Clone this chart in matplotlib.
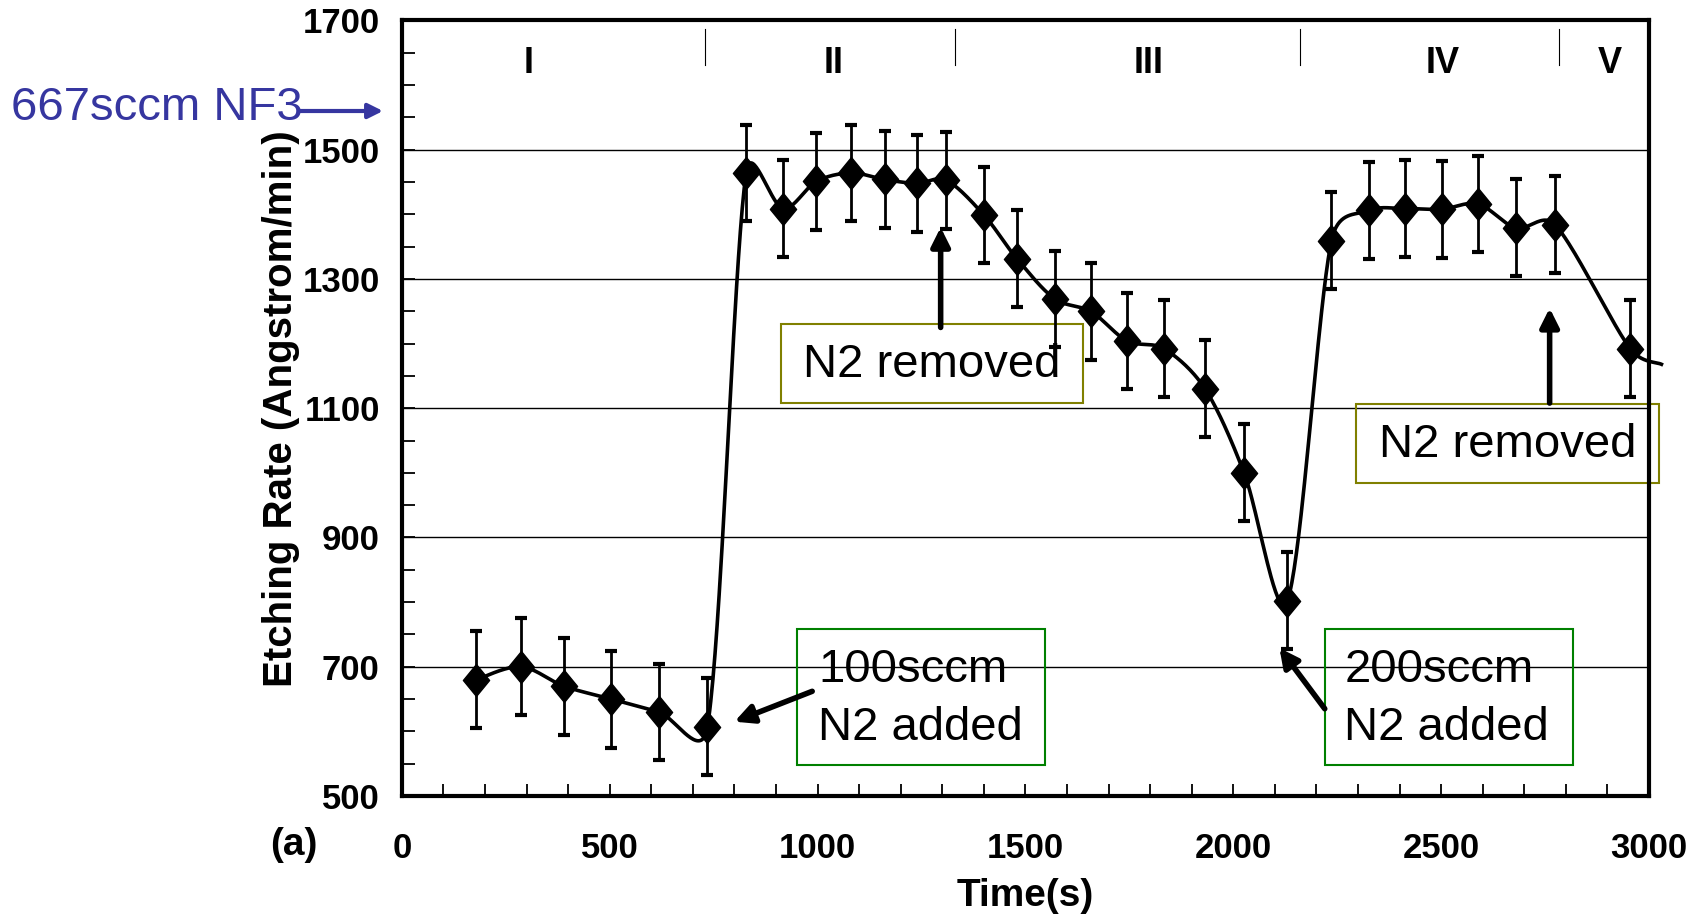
import numpy as np
import matplotlib
matplotlib.use('Agg')
import matplotlib.pyplot as plt
from matplotlib.patches import Rectangle
from matplotlib.ticker import MultipleLocator, FixedLocator

# etching rate readings over time
time_s = [179, 286, 390, 504, 618, 735, 828, 917, 997, 1080, 1161, 1239, 1309, 1400,
          1480, 1571, 1657, 1745, 1834, 1932, 2026, 2130, 2236, 2327, 2413, 2501,
          2589, 2680, 2774, 2955]
etch_rate = [680, 700, 670, 650, 630, 607, 1464, 1409, 1451, 1464, 1454, 1448, 1453,
             1399, 1331, 1269, 1250, 1204, 1192, 1130, 1000, 802, 1359, 1406, 1409,
             1408, 1416, 1379, 1384, 1192]
rate_err = 75
# the smoothed line runs on a little past the last reading
tail_time = [3030]
tail_rate = [1168]

stage_edges = [730, 1330, 2161, 2784]
stage_names = ['I', 'II', 'III', 'IV', 'V']
stage_centers = [304, 1039, 1797, 2504, 2906]

plt.rcParams['font.family'] = ['Liberation Sans', 'DejaVu Sans']


def smooth_curve(x, y, sx, sy, n=40):
    # bezier smoothing through every point; tangents get shortened next to
    # a much longer neighbouring segment (lengths measured on screen)
    pts = np.column_stack([np.asarray(x) * sx, np.asarray(y) * sy]).astype(float)
    p = np.vstack([pts[0], pts, pts[-1]])
    segs = []
    t = np.linspace(0, 1, n)[:, None]
    for i in range(1, len(p) - 2):
        p0, p1, p2, p3 = p[i - 1], p[i], p[i + 1], p[i + 2]
        d01 = np.hypot(*(p1 - p0))
        d12 = np.hypot(*(p2 - p1))
        d23 = np.hypot(*(p3 - p2))
        k1 = min(1.0, np.sqrt(2 * d12 / max(d01 + d12, 1e-9)))
        k2 = min(1.0, np.sqrt(2 * d12 / max(d12 + d23, 1e-9)))
        c1 = p1 + (p2 - p0) / 6 * k1
        c2 = p2 - (p3 - p1) / 6 * k2
        segs.append((1 - t) ** 3 * p1 + 3 * (1 - t) ** 2 * t * c1
                    + 3 * (1 - t) * t ** 2 * c2 + t ** 3 * p2)
    out = np.vstack(segs)
    return out[:, 0] / sx, out[:, 1] / sy


fig = plt.figure(figsize=(16.93, 9.14), dpi=100)
ax = fig.add_axes([0.2374, 0.1291, 0.7366, 0.8485])
ax.set_xlim(0, 3000)
ax.set_ylim(500, 1700)

for s in ax.spines.values():
    s.set_linewidth(3)
    s.set_color('black')

ax.xaxis.set_major_locator(MultipleLocator(500))
ax.xaxis.set_minor_locator(MultipleLocator(100))
ax.yaxis.set_major_locator(FixedLocator(np.arange(500, 1701, 200)))
ax.yaxis.set_minor_locator(MultipleLocator(50))
ax.tick_params(which='both', direction='in', top=False, right=False, width=1.3, length=9)
ax.tick_params(axis='x', which='major', pad=26)
ax.tick_params(axis='y', which='major', pad=16)
for lab in ax.get_xticklabels() + ax.get_yticklabels():
    lab.set_fontweight('bold')
    lab.set_fontsize(25)

ax.yaxis.grid(True, which='major', color='black', lw=1)
ax.set_axisbelow(True)

# smoothed line, error bars and diamond markers
cx, cy = smooth_curve(time_s + tail_time, etch_rate + tail_rate, 1247 / 3000, 775 / 1200)
ax.plot(cx, cy, color='black', lw=2.6, clip_on=False, zorder=3)
ax.errorbar(time_s, etch_rate, yerr=rate_err, fmt='none', ecolor='black',
            elinewidth=2, capsize=4, capthick=3, zorder=3)
diamond = [(0, -1), (0.82, 0), (0, 1), (-0.82, 0), (0, -1)]
ax.plot(time_s, etch_rate, ls='none', marker=diamond, ms=23, color='black', zorder=4)

# process stages along the top
for xe in stage_edges:
    ax.plot([xe, xe], [1631, 1687], color='black', lw=0.8)
for xc, name in zip(stage_centers, stage_names):
    ax.text(xc, 1634, name, ha='center', va='center', fontsize=26, fontweight='bold')

ax.set_ylabel('Etching Rate (Angstrom/min)', fontsize=29, fontweight='bold', labelpad=2)
ax.set_xlabel('Time(s)', fontsize=28, fontweight='bold', labelpad=9)
fig.text(294 / 1693, 1 - 845 / 914, '(a)', fontsize=28, fontweight='bold',
         ha='center', va='center')

# annotation boxes
olive = '#808000'
green = '#008000'
boxes = [((912, 1108), 727, 122, olive), ((2296, 985), 727, 122, olive),
         ((950, 548), 597, 211, green), ((2220, 548), 598, 211, green)]
for (x0, y0), w, h, ec in boxes:
    ax.add_patch(Rectangle((x0, y0), w, h, fill=False, ec=ec, lw=1.5, clip_on=False))

ax.text(1275, 1167, 'N2 removed', fontsize=34, ha='center', va='center')
ax.text(2659, 1043, 'N2 removed', fontsize=34, ha='center', va='center', clip_on=False)
ax.text(1002, 650, '100sccm\nN2 added', fontsize=34, ha='left', va='center', linespacing=1.4)
ax.text(2267, 650, '200sccm\nN2 added', fontsize=34, ha='left', va='center', linespacing=1.4)

arrow = dict(arrowstyle='-|>', color='black', lw=4, mutation_scale=28, shrinkA=0, shrinkB=0)
ax.annotate('', xy=(1296, 1380), xytext=(1296, 1225), arrowprops=arrow)
ax.annotate('', xy=(2761, 1255), xytext=(2761, 1108), arrowprops=arrow)
ax.annotate('', xy=(800, 615), xytext=(987, 662), arrowprops=arrow)
ax.annotate('', xy=(2111, 729), xytext=(2220, 635), arrowprops=arrow)

# gas flow label on the left
blue = '#3636A0'
fig.text(11 / 1693, 1 - 108 / 914, '667sccm NF3', fontsize=34, color=blue,
         ha='left', va='center')
ax.annotate('', xy=(383 / 1693, 1 - 111 / 914), xytext=(300 / 1693, 1 - 111 / 914),
            xycoords='figure fraction', textcoords='figure fraction',
            arrowprops=dict(arrowstyle='-|>', color=blue, lw=3, mutation_scale=22,
                            shrinkA=0, shrinkB=0))

fig.savefig('out.png', dpi=100)
